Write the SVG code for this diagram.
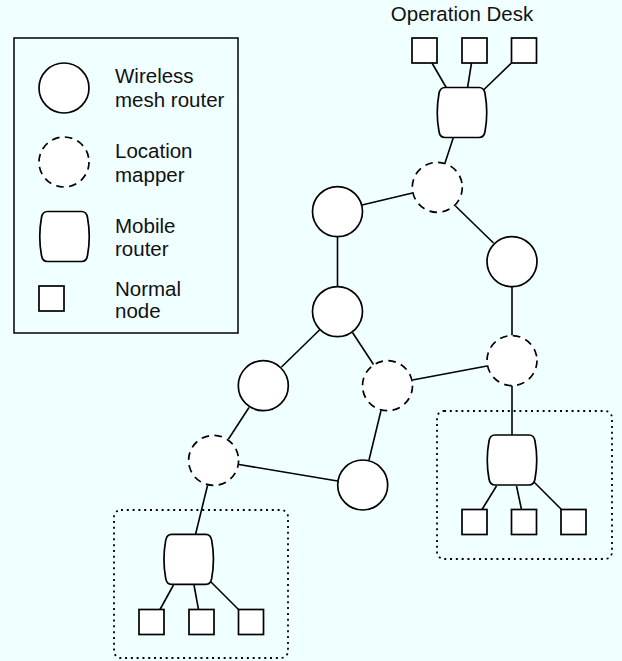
<svg xmlns="http://www.w3.org/2000/svg" xmlns:xlink="http://www.w3.org/1999/xlink" width="622" height="661" viewBox="0 0 622 661">
<style>
.bg{fill:#f0ffff}
.wmr{fill:#fff;stroke:#000;stroke-width:1.7}
.lm{fill:#fff;stroke:#000;stroke-width:1.7;stroke-dasharray:7.6 5.5}
.mr{fill:#fff;stroke:#000;stroke-width:1.7}
.nn{fill:#fff;stroke:#000;stroke-width:1.7}
.grp{fill:none;stroke:#000;stroke-width:1.8;stroke-dasharray:2 3.8}
.edge{stroke:#000;stroke-width:1.6;fill:none}
.lbl{font-family:"Liberation Sans",Arial,Helvetica,sans-serif;font-size:20.5px;fill:#111}
.box{fill:none;stroke:#000;stroke-width:1.5}
</style>
<defs>
<path id="mrshape" d="M -17,-25 H 17 Q 22,-25 23,-19 Q 26.5,0 23,19 Q 22,25 17,25 H -17 Q -22,25 -23,19 Q -26.5,0 -23,-19 Q -22,-25 -17,-25 Z"/>
</defs>
<rect class="bg" x="0" y="0" width="622" height="661"/>

<g id="legend">
<rect class="box" x="14" y="38" width="224" height="295"/>
<circle class="wmr" cx="64" cy="88" r="25"/>
<text class="lbl" x="115" y="83">Wireless</text>
<text class="lbl" x="115" y="107">mesh router</text>
<circle class="lm" cx="64" cy="162" r="25"/>
<text class="lbl" x="115" y="158">Location</text>
<text class="lbl" x="115" y="182">mapper</text>
<use href="#mrshape" class="mr" transform="translate(64.5,236.5)"/>
<text class="lbl" x="115" y="233">Mobile</text>
<text class="lbl" x="115" y="256">router</text>
<rect class="nn" x="39" y="286" width="25" height="25"/>
<text class="lbl" x="115" y="296">Normal</text>
<text class="lbl" x="115" y="318">node</text>
</g>

<g id="groups">
<rect id="group-right" class="grp" x="437" y="411" width="175" height="148" rx="7"/>
<rect id="group-left" class="grp" x="114" y="510" width="174" height="148" rx="7"/>
</g>

<g id="connectors">
<line class="edge" x1="432" y1="63" x2="446.5" y2="88"/>
<line class="edge" x1="471.5" y1="63" x2="467.5" y2="88"/>
<line class="edge" x1="511.5" y1="63" x2="483.5" y2="90"/>
<line class="edge" x1="453.5" y1="137" x2="445" y2="163"/>
<line class="edge" x1="362" y1="205" x2="412.5" y2="193"/>
<line class="edge" x1="455.5" y1="206" x2="493.5" y2="243"/>
<line class="edge" x1="337.5" y1="236.5" x2="337.5" y2="286.5"/>
<line class="edge" x1="512" y1="286.5" x2="512" y2="335.5"/>
<line class="edge" x1="352.5" y1="332.5" x2="373.5" y2="364.5"/>
<line class="edge" x1="319.5" y1="330" x2="281.5" y2="367"/>
<line class="edge" x1="412.5" y1="380" x2="487" y2="366"/>
<line class="edge" x1="381" y1="410.5" x2="369" y2="460"/>
<line class="edge" x1="249" y1="407.5" x2="228.5" y2="439"/>
<line class="edge" x1="239" y1="464.5" x2="337.5" y2="481"/>
<line class="edge" x1="207.5" y1="485.5" x2="195.5" y2="534.5"/>
<line class="edge" x1="512" y1="385.5" x2="512" y2="435"/>
<line class="edge" x1="496.5" y1="486" x2="482" y2="509.5"/>
<line class="edge" x1="516.5" y1="486" x2="521.5" y2="509.5"/>
<line class="edge" x1="533.5" y1="481.5" x2="561.5" y2="509.5"/>
<line class="edge" x1="173.5" y1="585" x2="160" y2="609.5"/>
<line class="edge" x1="194" y1="585" x2="198.5" y2="609.5"/>
<line class="edge" x1="210.5" y1="581.5" x2="238.5" y2="609.5"/>
</g>

<g id="operation-desk">
<text class="lbl" x="462" y="21" text-anchor="middle">Operation Desk</text>
<rect class="nn" x="412" y="38" width="25" height="25"/>
<rect class="nn" x="462" y="38" width="25" height="25"/>
<rect class="nn" x="511.5" y="38" width="25" height="25"/>
<use href="#mrshape" class="mr" transform="translate(462,112.5)"/>
</g>

<g id="lm1"><circle class="lm" cx="437.3" cy="187.3" r="25"/></g>
<g id="wmr1"><circle class="wmr" cx="337.5" cy="211.6" r="25"/></g>
<g id="wmr2"><circle class="wmr" cx="512" cy="261.6" r="25"/></g>
<g id="wmr3"><circle class="wmr" cx="337.5" cy="311.6" r="25"/></g>
<g id="lm2"><circle class="lm" cx="512" cy="360.6" r="25"/></g>
<g id="lm3"><circle class="lm" cx="387.5" cy="385.7" r="25"/></g>
<g id="wmr4"><circle class="wmr" cx="263.3" cy="385.7" r="25"/></g>
<g id="lm4"><circle class="lm" cx="213.6" cy="460.4" r="25"/></g>
<g id="wmr5"><circle class="wmr" cx="362.7" cy="485" r="25"/></g>

<g id="right-cluster">
<use href="#mrshape" class="mr" transform="translate(512,460)"/>
<rect class="nn" x="462" y="509.5" width="25" height="25"/>
<rect class="nn" x="511.5" y="509.5" width="25" height="25"/>
<rect class="nn" x="561" y="509.5" width="25" height="25"/>
</g>

<g id="left-cluster">
<use href="#mrshape" class="mr" transform="translate(188.7,559.3)"/>
<rect class="nn" x="139" y="609.5" width="25" height="25"/>
<rect class="nn" x="189" y="609.5" width="25" height="25"/>
<rect class="nn" x="238.5" y="609.5" width="25" height="25"/>
</g>
</svg>
